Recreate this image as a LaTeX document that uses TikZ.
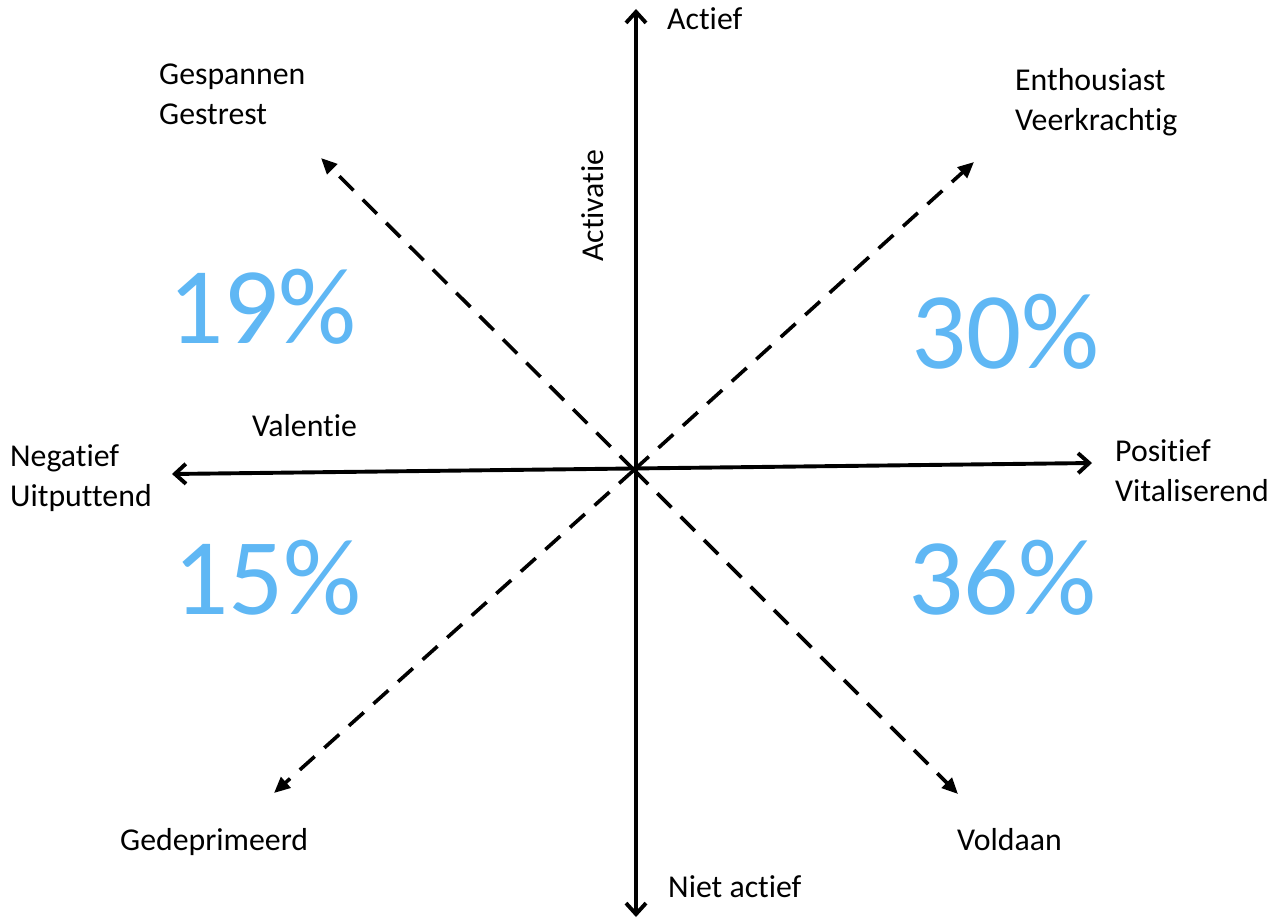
\documentclass[tikz,border=0pt]{standalone}
\usepackage{fontspec}
\setmainfont{Carlito}[Ligatures={NoCommon}]
\usetikzlibrary{arrows.meta}
\definecolor{pctblue}{HTML}{5FB7F4}
\begin{document}
\begin{tikzpicture}[x=1pt,y=-1pt,
  axisline/.style={line width=3.9pt,{Straight Barb[length=11pt,width=20pt]}-{Straight Barb[length=11pt,width=20pt]}},
  diagline/.style={line width=3.6pt,dash pattern=on 20pt off 13pt,-{Triangle[length=16pt,width=14pt]}},
  lbl/.style={inner sep=0pt,anchor=base west,font=\fontsize{31.8}{40}\selectfont,align=left},
  pct/.style={inner sep=0pt,anchor=base west,text=pctblue,font=\fontsize{109}{109}\selectfont}]
\useasboundingbox (0,0) rectangle (1276,923);
\coordinate (c) at (634,470);
\coordinate (top) at (636,9);
\coordinate (bot) at (636,917);
\coordinate (left) at (172,474);
\coordinate (right) at (1092,463);
\coordinate (nw) at (321,158);
\coordinate (ne) at (974,162);
\coordinate (sw) at (274,793);
\coordinate (se) at (958,794);
\draw[axisline] (bot) -- (top);
\draw[axisline] (left) -- (right);
\draw[diagline] (c) -- (nw);
\draw[diagline] (c) -- (ne);
\draw[diagline] (c) -- (sw);
\draw[diagline] (c) -- (se);
\node[lbl] (actief) at (667,30) {Actief};
\node[lbl] (nietactief) at (668,897) {Niet actief};
\node[lbl,anchor=north west] (gesp) at (159,64) {Gespannen\\Gestrest};
\node[lbl,anchor=north west] (enth) at (1015,68) {Enthousiast\\Veerkrachtig};
\node[lbl,anchor=north west] (neg) at (10,444) {Negatief\\Uitputtend};
\node[lbl,anchor=north west] (pos) at (1115,439) {Positief\\Vitaliserend};
\node[lbl] (gedep) at (120,850) {Gedeprimeerd};
\node[lbl] (voldaan) at (957,850) {Voldaan};
\node[lbl] (valentie) at (252,436) {Valentie};
\node[lbl,rotate=90] (activatie) at (603,262) {Activatie};
\node[pct] (p19) at (168,343) {19\%};
\node[pct] (p30) at (911,368) {30\%};
\node[pct] (p15) at (173,614) {15\%};
\node[pct] (p36) at (908,614) {36\%};
\end{tikzpicture}
\end{document}
